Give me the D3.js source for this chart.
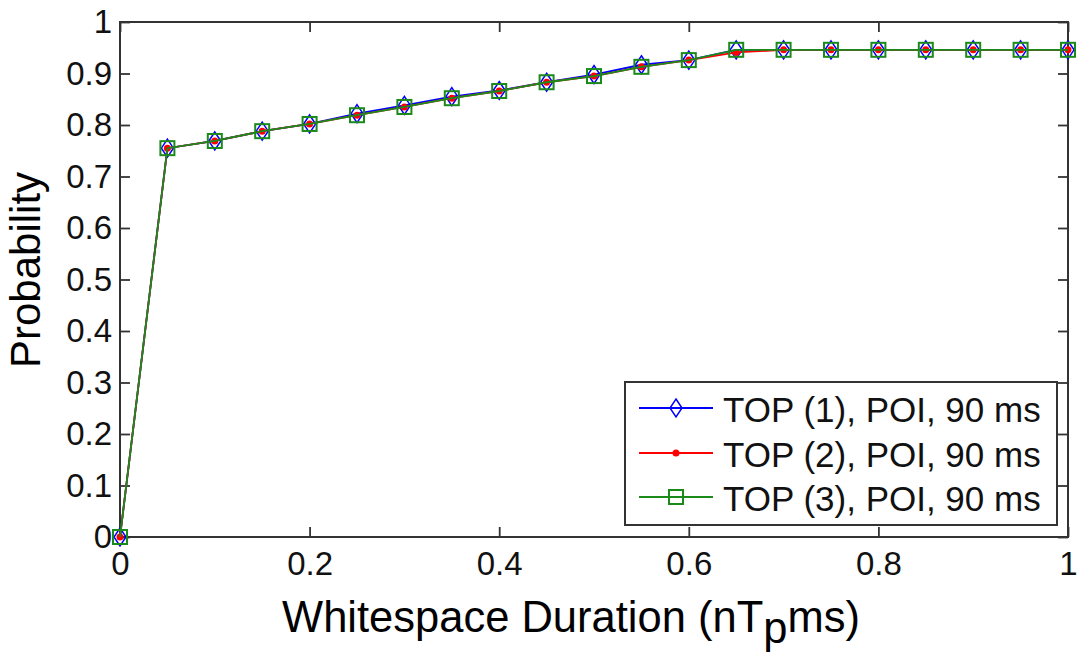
<!DOCTYPE html>
<html>
<head>
<meta charset="utf-8">
<script src="https://cdn.jsdelivr.net/npm/d3@7"></script>
<style>
  html, body { margin: 0; padding: 0; background: #fff; }
  svg { display: block; font-family: "Liberation Sans", Arial, sans-serif; }
</style>
</head>
<body>
<svg id="chart" width="1078" height="652"></svg>
<script>
// ---- data ----
const xValues = [0, 0.05, 0.1, 0.15, 0.2, 0.25, 0.3, 0.35, 0.4, 0.45, 0.5,
                 0.55, 0.6, 0.65, 0.7, 0.75, 0.8, 0.85, 0.9, 0.95, 1];
const top1Values = [0, 0.755, 0.769, 0.788, 0.802, 0.822, 0.838, 0.855, 0.867, 0.883, 0.898,
                    0.917, 0.926, 0.946, 0.946, 0.946, 0.946, 0.946, 0.946, 0.946, 0.946];
const top2Values = [0, 0.755, 0.769, 0.788, 0.802, 0.819, 0.835, 0.852, 0.866, 0.883, 0.895,
                    0.913, 0.926, 0.941, 0.946, 0.946, 0.946, 0.946, 0.946, 0.946, 0.946];
const top3Values = [0, 0.755, 0.769, 0.788, 0.802, 0.819, 0.835, 0.852, 0.866, 0.883, 0.895,
                    0.913, 0.926, 0.946, 0.946, 0.946, 0.946, 0.946, 0.946, 0.946, 0.946];
const seriesNames = ["TOP (1), POI, 90 ms", "TOP (2), POI, 90 ms", "TOP (3), POI, 90 ms"];
const xTicks = [0, 0.2, 0.4, 0.6, 0.8, 1];
const yTicks = [0, 0.1, 0.2, 0.3, 0.4, 0.5, 0.6, 0.7, 0.8, 0.9, 1];
const xLabelMain = "Whitespace Duration (nT";
const xLabelSub = "p";
const xLabelEnd = "ms)";
const yLabel = "Probability";

// ---- layout ----
const svg = d3.select("#chart");
const plot = { left: 120, right: 1068, top: 22, bottom: 537 };
const x = d3.scaleLinear().domain([0, 1]).range([plot.left, plot.right]);
const y = d3.scaleLinear().domain([0, 1]).range([plot.bottom, plot.top]);
const axisColor = "#333";
const fmt = d => (d === 0 || d === 1) ? String(d) : d3.format(".1f")(d);

const series = [
  { name: seriesNames[0], values: top1Values, color: "#0000ff", marker: "diamond" },
  { name: seriesNames[1], values: top2Values, color: "#ff0000", marker: "dot" },
  { name: seriesNames[2], values: top3Values, color: "#1a8a1a", marker: "square" }
];

// frame
svg.append("rect")
  .attr("x", plot.left).attr("y", plot.top)
  .attr("width", plot.right - plot.left).attr("height", plot.bottom - plot.top)
  .attr("fill", "#fff").attr("stroke", axisColor).attr("stroke-width", 2);

// axes with inward ticks
const tickLen = 10;
const gx = svg.append("g").attr("transform", `translate(0,${plot.bottom})`)
  .call(d3.axisBottom(x).tickValues(xTicks).tickFormat(fmt).tickSizeInner(-tickLen).tickSizeOuter(0).tickPadding(15));
const gxTop = svg.append("g").attr("transform", `translate(0,${plot.top})`)
  .call(d3.axisTop(x).tickValues(xTicks).tickFormat("").tickSizeInner(-tickLen).tickSizeOuter(0));
const gy = svg.append("g").attr("transform", `translate(${plot.left},0)`)
  .call(d3.axisLeft(y).tickValues(yTicks).tickFormat(fmt).tickSizeInner(-tickLen).tickSizeOuter(0).tickPadding(8));
const gyR = svg.append("g").attr("transform", `translate(${plot.right},0)`)
  .call(d3.axisRight(y).tickValues(yTicks).tickFormat("").tickSizeInner(-tickLen).tickSizeOuter(0));
[gx, gxTop, gy, gyR].forEach(g => {
  g.select(".domain").remove();
  g.selectAll(".tick line").attr("stroke", axisColor).attr("stroke-width", 1.8);
  g.selectAll("text").attr("fill", "#111").attr("font-size", 33)
    .attr("font-family", "'Liberation Sans', Arial, sans-serif");
});
gx.selectAll("text").attr("dy", "0.71em");

// marker drawing
function drawMarker(g, type, color, cx, cy) {
  if (type === "diamond") {
    g.append("path")
      .attr("d", `M${cx},${cy - 9}L${cx + 6},${cy}L${cx},${cy + 9}L${cx - 6},${cy}Z`)
      .attr("fill", "none").attr("stroke", color).attr("stroke-width", 1.5);
  } else if (type === "dot") {
    g.append("circle").attr("cx", cx).attr("cy", cy).attr("r", 3.5).attr("fill", color);
  } else {
    g.append("rect").attr("x", cx - 7).attr("y", cy - 7).attr("width", 14).attr("height", 14)
      .attr("fill", "none").attr("stroke", color).attr("stroke-width", 2);
  }
}

const line = d3.line().x(d => x(d[0])).y(d => y(d[1]));
series.forEach(s => {
  const g = svg.append("g");
  const pts = xValues.map((v, i) => [v, s.values[i]]);
  g.append("path").attr("d", line(pts)).attr("fill", "none")
    .attr("stroke", s.color).attr("stroke-width", 1.8);
  pts.forEach(p => drawMarker(g, s.marker, s.color, x(p[0]), y(p[1])));
});

// legend
const leg = { x: 625, y: 382, w: 432, h: 143 };
const lg = svg.append("g");
lg.append("rect").attr("x", leg.x).attr("y", leg.y).attr("width", leg.w).attr("height", leg.h)
  .attr("fill", "#fff").attr("stroke", axisColor).attr("stroke-width", 2);
const rowY = [408, 453, 497];
series.forEach((s, i) => {
  const ly = rowY[i];
  lg.append("line").attr("x1", 639).attr("x2", 713).attr("y1", ly).attr("y2", ly)
    .attr("stroke", s.color).attr("stroke-width", 1.8);
  drawMarker(lg, s.marker, s.color, 676, ly);
  lg.append("text").attr("x", 723).attr("y", ly + 14)
    .attr("font-size", 35).attr("fill", "#111").text(s.name);
});

// axis labels
const xl = svg.append("text").attr("x", 571).attr("y", 632).attr("text-anchor", "middle")
  .attr("font-size", 43.5).attr("fill", "#000");
xl.append("tspan").text(xLabelMain);
xl.append("tspan").attr("dy", 11).text(xLabelSub);
xl.append("tspan").attr("dy", -11).text(xLabelEnd);

svg.append("text").attr("transform", `translate(40,270) rotate(-90)`)
  .attr("text-anchor", "middle").attr("font-size", 42).attr("fill", "#000").text(yLabel);
</script>
</body>
</html>
